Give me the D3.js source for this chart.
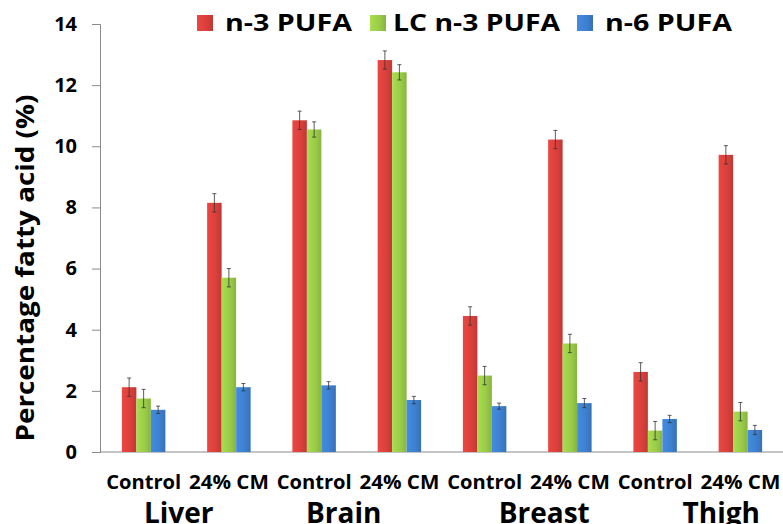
<!DOCTYPE html>
<html>
<head>
<meta charset="utf-8">
<script src="https://cdn.jsdelivr.net/npm/d3@7"></script>
<style>
  body { margin: 0; background: #fff; }
  text { font-family: "Open Sans", Lato, sans-serif; font-weight: bold; fill: #000; }
</style>
</head>
<body>
<script>
// data
var treatments = ["Control", "24% CM", "Control", "24% CM", "Control", "24% CM", "Control", "24% CM"];
var tissues = ["Liver", "Brain", "Breast", "Thigh"];
var tissueShift = [-7.5, -13, 17, 23.5]; // labels in the original are not quite centred
var seriesNames = ["n-3 PUFA", "LC n-3 PUFA", "n-6 PUFA"];
var n3 =    [2.12, 8.15, 10.85, 12.82, 4.45, 10.22, 2.62, 9.72];
var lcn3 =  [1.75, 5.70, 10.55, 12.42, 2.50, 3.55, 0.70, 1.32];
var n6 =    [1.38, 2.12, 2.18, 1.70, 1.50, 1.60, 1.08, 0.72];
var n3Err =   [0.30, 0.30, 0.30, 0.30, 0.30, 0.30, 0.30, 0.30];
var lcn3Err = [0.30, 0.30, 0.25, 0.25, 0.30, 0.30, 0.30, 0.30];
var n6Err =   [0.12, 0.12, 0.12, 0.12, 0.10, 0.15, 0.12, 0.15];
var yTicks = [0, 2, 4, 6, 8, 10, 12, 14];
var colors = ["#d9403b", "#9acb48", "#3d80cf"];

var W = 783, H = 524;
var margin = {top: 24, right: 0, bottom: 72, left: 100};

var svg = d3.select("body").append("svg")
    .attr("width", W)
    .attr("height", H);

var defs = svg.append("defs");
colors.forEach(function(c, i) {
  var g = defs.append("linearGradient").attr("id", "grad" + i)
      .attr("x1", 0).attr("x2", 1).attr("y1", 0).attr("y2", 0);
  g.append("stop").attr("offset", "0%").attr("stop-color", d3.color(c).brighter(0.25));
  g.append("stop").attr("offset", "60%").attr("stop-color", c);
  g.append("stop").attr("offset", "100%").attr("stop-color", d3.color(c).darker(0.35));
});

var x = d3.scaleBand()
    .domain(d3.range(treatments.length))
    .range([margin.left + 1, W])
    .paddingInner(0)
    .paddingOuter(0);

var xs = d3.scaleBand()
    .domain(d3.range(3))
    .range([x.bandwidth() * 0.245, x.bandwidth() * 0.755]);

var y = d3.scaleLinear()
    .domain([0, 14])
    .range([H - margin.bottom, margin.top]);

// y axis
var yAxis = svg.append("g")
    .attr("transform", "translate(" + margin.left + ",0)")
    .call(d3.axisLeft(y).tickValues(yTicks).tickSize(8).tickPadding(15));
yAxis.select(".domain").attr("stroke", "#8a8a8a");
yAxis.selectAll(".tick line").attr("stroke", "#8a8a8a");
yAxis.selectAll(".tick text").style("font-size", "20px");

// x axis line
svg.append("line")
    .attr("x1", margin.left).attr("x2", W)
    .attr("y1", y(0)).attr("y2", y(0))
    .attr("stroke", "#8a8a8a");

var series = [n3, lcn3, n6];
var errs = [n3Err, lcn3Err, n6Err];

var groups = svg.append("g").selectAll("g")
    .data(treatments)
  .enter().append("g")
    .attr("transform", function(d, i) { return "translate(" + x(i) + ",0)"; });

groups.each(function(t, i) {
  var g = d3.select(this);
  series.forEach(function(s, k) {
    g.append("rect")
        .attr("x", xs(k))
        .attr("y", y(s[i]))
        .attr("width", xs.bandwidth())
        .attr("height", y(0) - y(s[i]))
        .attr("fill", "url(#grad" + k + ")");
    var cx = xs(k) + xs.bandwidth() / 2;
    var hi = y(s[i] + errs[k][i]), lo = y(s[i] - errs[k][i]);
    g.append("line").attr("x1", cx).attr("x2", cx).attr("y1", hi).attr("y2", lo)
        .attr("stroke", "#333").attr("stroke-width", 0.8);
    [hi, lo].forEach(function(v) {
      g.append("line").attr("x1", cx - 2).attr("x2", cx + 2).attr("y1", v).attr("y2", v)
          .attr("stroke", "#333").attr("stroke-width", 0.8);
    });
  });
});

// treatment labels
svg.append("g").selectAll("text")
    .data(treatments)
  .enter().append("text")
    .attr("x", function(d, i) { return x(i) + x.bandwidth() / 2; })
    .attr("y", 489)
    .attr("text-anchor", "middle")
    .attr("textLength", function(d) { return d === "Control" ? 75 : 80; })
    .attr("lengthAdjust", "spacingAndGlyphs")
    .style("font-size", "19px")
    .text(function(d) { return d; });

// tissue labels
svg.append("g").selectAll("text")
    .data(tissues)
  .enter().append("text")
    .attr("x", function(d, i) { return x(i * 2 + 1) + tissueShift[i]; })
    .attr("y", 523)
    .attr("text-anchor", "middle")
    .style("font-size", "28px")
    .text(function(d) { return d; });

// y title
svg.append("text")
    .attr("transform", "translate(34,268) rotate(-90)")
    .attr("text-anchor", "middle")
    .attr("textLength", 347)
    .attr("lengthAdjust", "spacingAndGlyphs")
    .style("font-size", "25px")
    .text("Percentage fatty acid (%)");

// legend
var legendX = [197, 370, 577];
var legendW = [127, 167, 127];
var legend = svg.append("g").selectAll("g")
    .data(seriesNames)
  .enter().append("g")
    .attr("transform", function(d, i) { return "translate(" + legendX[i] + ",15)"; });
legend.append("rect")
    .attr("width", 16).attr("height", 16)
    .attr("fill", function(d, i) { return "url(#grad" + i + ")"; });
legend.append("text")
    .attr("x", function(d, i) { return i === 1 ? 23 : 28; })
    .attr("y", 16)
    .attr("textLength", function(d, i) { return legendW[i]; })
    .attr("lengthAdjust", "spacingAndGlyphs")
    .style("font-size", "24px")
    .text(function(d) { return d; });
</script>
</body>
</html>
